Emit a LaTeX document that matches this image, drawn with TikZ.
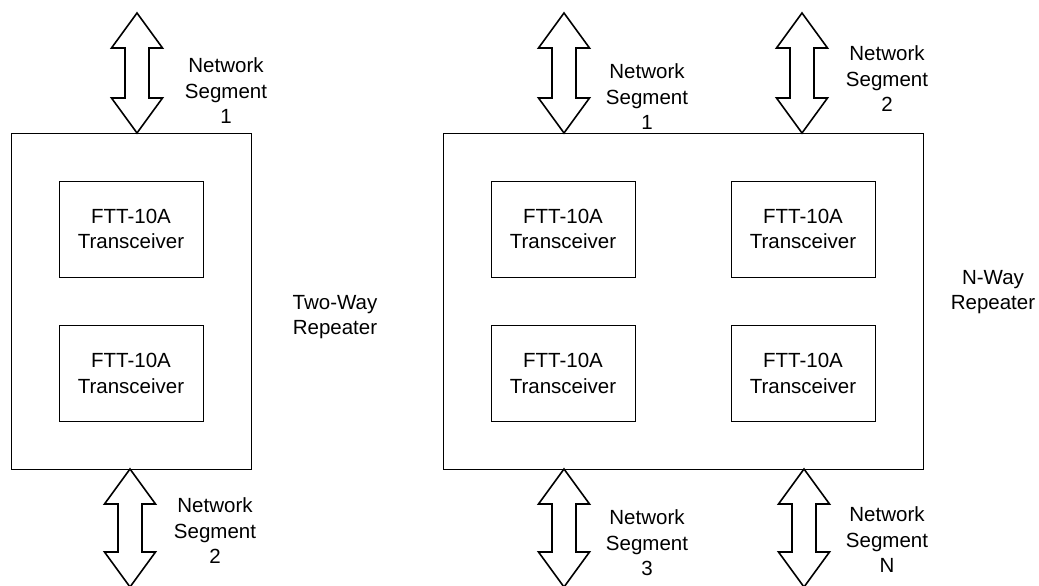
\documentclass[tikz,border=0pt]{standalone}
\usepackage{fontspec}
\setmainfont{Liberation Sans}
\tikzset{
  repeater/.style={draw, line width=0.9pt, rectangle, inner sep=0pt},
  transceiver/.style={draw, line width=0.9pt, rectangle, inner sep=0pt,
    minimum width=144pt, minimum height=96pt, align=center},
  label/.style={align=center, inner sep=0pt},
  segarrow/.style={draw, line width=1.6pt, line join=miter, fill=white}
}
% double block arrow: top point, length
\newcommand{\segment}[2]{%
  \path[segarrow] #1 -- ++(25.5,35) -- ++(-13.5,0) -- ++(0,#2-70)
    -- ++(13.5,0) -- ++(-25.5,35) -- ++(-25.5,-35) -- ++(13.5,0)
    -- ++(0,70-#2) -- ++(-13.5,0) -- cycle;}
\begin{document}
\begin{tikzpicture}[x=1pt, y=-1pt, font=\fontsize{20.5}{25.5}\selectfont]
      \useasboundingbox (0,0) rectangle (1039,586);
      % two-way repeater
      \node[repeater, minimum width=240pt, minimum height=336pt] (twoway) at (131,301) {};
      \node[transceiver] (tA) at (131,229) {FTT-10A\\Transceiver};
      \node[transceiver] (tB) at (131,373.5) {FTT-10A\\Transceiver};
      \node[label] (twolbl) at (335,317) {Two-Way\\Repeater};
      % n-way repeater
      \node[repeater, minimum width=480pt, minimum height=336pt] (nway) at (683,301) {};
      \node[transceiver] (tC) at (563,229) {FTT-10A\\Transceiver};
      \node[transceiver] (tD) at (803,229) {FTT-10A\\Transceiver};
      \node[transceiver] (tE) at (563,373.5) {FTT-10A\\Transceiver};
      \node[transceiver] (tF) at (803,373.5) {FTT-10A\\Transceiver};
      \node[label] (nlbl) at (993,292) {N-Way\\Repeater};
      % segments
      \coordinate (s1) at (137,13);
      \coordinate (s2) at (130,469);
      \coordinate (s3) at (564,13);
      \coordinate (s4) at (802,13);
      \coordinate (s5) at (564,469);
      \coordinate (s6) at (804,469);
      \segment{(s1)}{120}
      \segment{(s2)}{118}
      \segment{(s3)}{120}
      \segment{(s4)}{120}
      \segment{(s5)}{118}
      \segment{(s6)}{118}
      \node[label] (seg1) at (226,91) {Network\\Segment\\1};
      \node[label] (seg2) at (215,531) {Network\\Segment\\2};
      \node[label] (segA) at (647,97) {Network\\Segment\\1};
      \node[label] (segB) at (887,79) {Network\\Segment\\2};
      \node[label] (segC) at (647,543) {Network\\Segment\\3};
      \node[label] (segN) at (887,540) {Network\\Segment\\N};
    \end{tikzpicture}
\end{document}
